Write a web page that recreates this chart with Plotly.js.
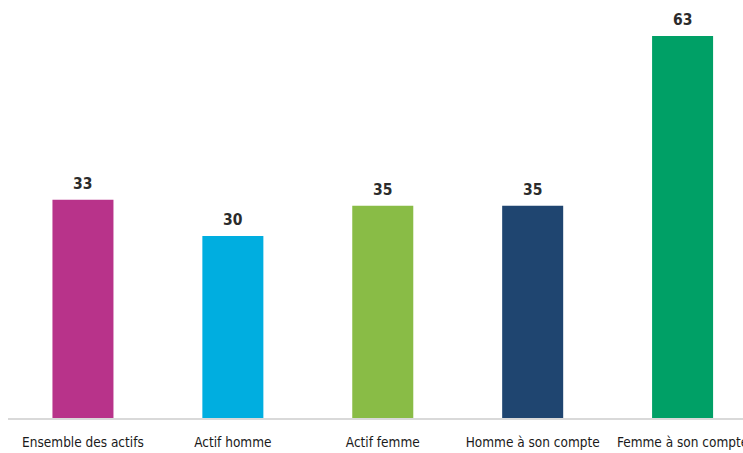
<!DOCTYPE html>
<html>
<head>
<meta charset="utf-8">
<script src="https://cdn.plot.ly/plotly-3.0.1.min.js"></script>
<style>
html,body{margin:0;padding:0;background:#fff;overflow:hidden;}
#chart{width:743px;height:453px;}
</style>
</head>
<body>
<div id="chart"></div>
<script>
const categories = ["Ensemble des actifs", "Actif homme", "Actif femme", "Homme à son compte", "Femme à son compte"];
// bar heights as drawn in the picture
const barValues = [36, 30, 35, 35, 63];
// value labels as printed above the bars
const valueLabels = ["33", "30", "35", "35", "63"];
const barColors = ["#B8338A", "#00AEE0", "#89BC46", "#1F4570", "#00A066"];

const labelFont = "'DejaVu Sans Condensed', 'Liberation Sans Narrow', sans-serif";

const trace = {
  type: "bar",
  x: categories,
  y: barValues,
  marker: {color: barColors, line: {width: 0}},
  hoverinfo: "none"
};

const annotations = categories.map((c, i) => ({
  x: c, y: barValues[i], xref: "x", yref: "y",
  text: "<b>" + valueLabels[i] + "</b>",
  showarrow: false, yanchor: "bottom", yshift: 5,
  font: {family: labelFont, size: 15.5, color: "#2b2b2b"}
}));

const layout = {
  width: 743, height: 453,
  margin: {l: 7.5, r: 0, t: 0, b: 35},
  paper_bgcolor: "#ffffff", plot_bgcolor: "#ffffff",
  showlegend: false,
  bargap: 0.593,
  xaxis: {
    type: "category",
    range: [-0.5, 4.403],
    showline: true, linecolor: "#d9d9d9", linewidth: 2,
    showgrid: false, zeroline: false, ticks: "",
    ticklabelstandoff: 11,
    tickfont: {family: labelFont, size: 13.5, color: "#1a1a1a"},
    fixedrange: true
  },
  yaxis: {
    range: [0, 68.92],
    visible: false, showgrid: false, zeroline: false, fixedrange: true
  },
  annotations: annotations
};

Plotly.newPlot("chart", [trace], layout, {displayModeBar: false, staticPlot: true});
</script>
</body>
</html>
